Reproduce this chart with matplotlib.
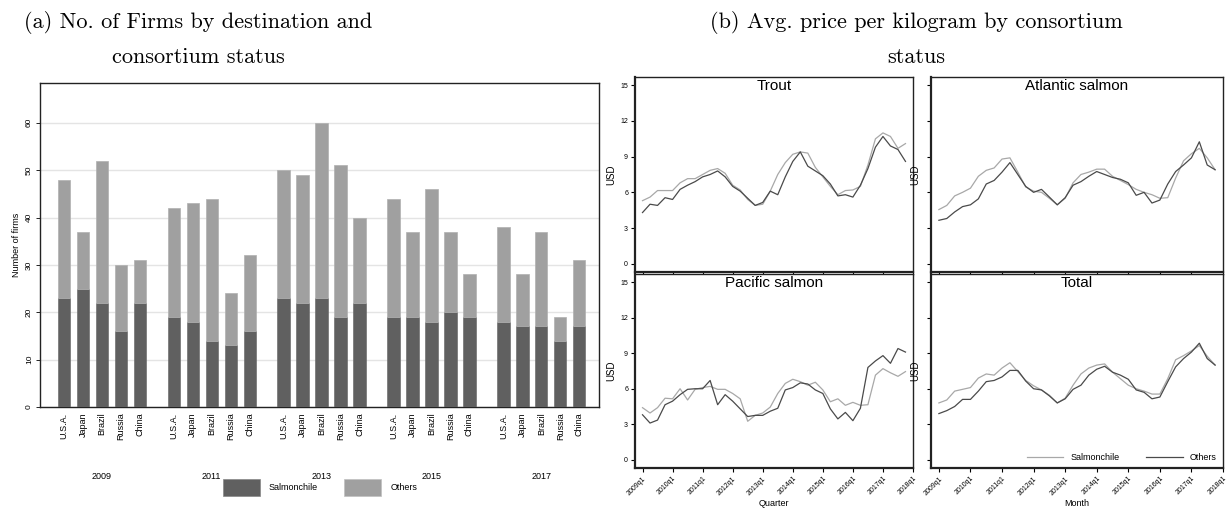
import matplotlib
matplotlib.use('Agg')
import matplotlib.pyplot as plt
import matplotlib.patches as patches
import numpy as np
from matplotlib.transforms import blended_transform_factory

# ---- data: panel (a) ----
years = ['2009', '2011', '2013', '2015', '2017']
countries = ['U.S.A.', 'Japan', 'Brazil', 'Russia', 'China']
salmonchile_firms = [[23, 25, 22, 16, 22],
                     [19, 18, 14, 13, 16],
                     [23, 22, 23, 19, 22],
                     [19, 19, 18, 20, 19],
                     [18, 17, 17, 14, 17]]
total_firms = [[48, 37, 52, 30, 31],
               [42, 43, 44, 24, 32],
               [50, 49, 60, 51, 40],
               [44, 37, 46, 37, 28],
               [38, 28, 37, 19, 31]]

# ---- data: panel (b), quarterly 2009q1 - 2017q4 ----
tick_labels = ['2009q1', '2010q1', '2011q1', '2012q1', '2013q1',
               '2014q1', '2015q1', '2016q1', '2017q1', '2018q1']

trout_salmonchile = [5.3, 5.6, 6.15, 6.15, 6.15, 6.8, 7.15, 7.15, 7.5, 7.85, 8.0, 7.6,
                     6.6, 6.2, 5.4, 4.9, 5.0, 6.1, 7.5, 8.5, 9.2, 9.4, 9.3, 8.1,
                     7.3, 6.5, 5.8, 6.15, 6.2, 6.5, 8.3, 10.5, 11.0, 10.7, 9.7, 10.1]
trout_others = [4.3, 5.0, 4.9, 5.55, 5.4, 6.25, 6.6, 6.9, 7.3, 7.5, 7.8, 7.3,
                6.5, 6.1, 5.5, 4.9, 5.15, 6.1, 5.8, 7.3, 8.6, 9.4, 8.2, 7.8,
                7.4, 6.7, 5.7, 5.8, 5.6, 6.6, 8.0, 9.8, 10.7, 9.9, 9.6, 8.6]

atlantic_salmonchile = [4.55, 4.9, 5.7, 6.0, 6.35, 7.35, 7.85, 8.05, 8.8, 8.9, 7.7, 6.45,
                        6.1, 6.0, 5.5, 4.95, 5.5, 6.8, 7.5, 7.7, 7.95, 7.95, 7.35, 7.0,
                        6.65, 6.25, 6.0, 5.8, 5.5, 5.55, 7.2, 8.65, 9.25, 9.7, 8.9, 7.9]
atlantic_others = [3.65, 3.8, 4.35, 4.8, 4.95, 5.45, 6.7, 7.0, 7.7, 8.5, 7.5, 6.5,
                   6.0, 6.25, 5.6, 4.95, 5.55, 6.6, 6.9, 7.35, 7.75, 7.5, 7.25, 7.1,
                   6.8, 5.75, 6.0, 5.1, 5.35, 6.7, 7.75, 8.3, 8.9, 10.25, 8.3, 7.9]

pacific_salmonchile = [4.4, 3.95, 4.4, 5.2, 5.15, 6.0, 5.05, 5.95, 6.1, 6.2, 5.95, 5.95,
                       5.6, 5.15, 3.25, 3.75, 3.95, 4.45, 5.6, 6.45, 6.8, 6.6, 6.3, 6.55,
                       5.9, 4.9, 5.15, 4.6, 4.85, 4.6, 4.65, 7.15, 7.7, 7.35, 7.05, 7.45]
pacific_others = [3.8, 3.1, 3.35, 4.65, 4.95, 5.5, 5.95, 6.0, 6.0, 6.7, 4.65, 5.5,
                  4.95, 4.3, 3.65, 3.75, 3.75, 4.1, 4.35, 5.9, 6.1, 6.5, 6.4, 5.9,
                  5.6, 4.3, 3.45, 4.0, 3.3, 4.35, 7.8, 8.35, 8.8, 8.15, 9.4, 9.1]

total_salmonchile = [4.8, 5.05, 5.8, 5.95, 6.1, 6.9, 7.25, 7.15, 7.75, 8.2, 7.45, 6.7,
                     6.25, 5.9, 5.45, 4.8, 5.2, 6.3, 7.25, 7.75, 8.0, 8.1, 7.4, 6.85,
                     6.3, 6.0, 5.8, 5.55, 5.55, 6.85, 8.45, 8.8, 9.2, 9.65, 8.75, 8.0]
total_others = [3.9, 4.15, 4.5, 5.1, 5.1, 5.8, 6.6, 6.7, 7.0, 7.55, 7.55, 6.65,
                6.0, 5.9, 5.4, 4.8, 5.15, 5.95, 6.3, 7.15, 7.65, 7.9, 7.4, 7.15,
                6.8, 5.9, 5.7, 5.15, 5.3, 6.6, 7.85, 8.55, 9.1, 9.85, 8.55, 8.0]

DARK = '#606060'
LIGHT = '#a0a0a0'
LINE_LIGHT = '#a8a8a8'
LINE_DARK = '#4a4a4a'

W, H = 1230, 508
fig = plt.figure(figsize=(W / 100, H / 100), dpi=100)
fig.patch.set_facecolor('white')


def px_axes(x0, y0, x1, y1):
    return fig.add_axes([x0 / W, 1 - y1 / H, (x1 - x0) / W, (y1 - y0) / H])


TITLE_FONT = dict(family='cmr10', fontsize=16)
SANS = ['Liberation Sans', 'DejaVu Sans']

# ---- titles ----
fig.text(198 / W, 1 - 23 / H, '(a) No. of Firms by destination and',
         ha='center', va='center', **TITLE_FONT)
fig.text(198 / W, 1 - 57 / H, 'consortium status', ha='center', va='center', **TITLE_FONT)
fig.text(916 / W, 1 - 23 / H, '(b) Avg. price per kilogram by consortium',
         ha='center', va='center', **TITLE_FONT)
fig.text(916 / W, 1 - 57 / H, 'status', ha='center', va='center', **TITLE_FONT)

# ---- panel (a): stacked bars ----
ax = px_axes(40, 83, 599, 407)
group_step = 5.79
bar_w = 0.65
xpos = []
xlab = []
for g, yr in enumerate(years):
    for j, c in enumerate(countries):
        x = g * group_step + j
        sc = salmonchile_firms[g][j]
        ot = total_firms[g][j] - sc
        ax.bar(x, sc, width=bar_w, color=DARK, edgecolor='#707070', linewidth=0.5, zorder=3)
        ax.bar(x, ot, bottom=sc, width=bar_w, color=LIGHT, edgecolor='#b0b0b0',
               linewidth=0.5, zorder=3)
        xpos.append(x)
        xlab.append(c)
ax.set_xlim(-1.26, 28.2)
ax.set_ylim(0, 68.4)
ax.set_yticks([0, 10, 20, 30, 40, 50, 60])
ax.set_yticklabels(['0', '10', '20', '30', '40', '50', '60'], rotation=90, va='center',
                   fontsize=6, family=SANS)
ax.set_xticks(xpos)
ax.set_xticklabels(xlab, rotation=90, fontsize=6.5, family=SANS)
ax.tick_params(axis='x', length=0, pad=4)
ax.tick_params(axis='y', length=3, width=0.6, pad=2)
ax.yaxis.grid(True, color='#e4e4e4', linewidth=1.0, zorder=0)
ax.set_ylabel('Number of firms', fontsize=6.5, family=SANS, labelpad=4)
for s in ax.spines.values():
    s.set_linewidth(1.0)
    s.set_color('#222222')
trans = blended_transform_factory(ax.transData, ax.transAxes)
for g, yr in enumerate(years):
    ax.text(g * group_step + 2, -0.215, yr, transform=trans, ha='center', va='center',
            fontsize=6.5, family=SANS)

# legend for panel (a)
fig.patches.append(patches.Rectangle((223 / W, 1 - 496 / H), 37 / W, 17 / H,
                                     transform=fig.transFigure, facecolor=DARK,
                                     edgecolor='#888888', linewidth=0.5))
fig.text(269 / W, 1 - 488 / H, 'Salmonchile', ha='left', va='center', fontsize=6.5,
         family=SANS)
fig.patches.append(patches.Rectangle((344 / W, 1 - 496 / H), 37 / W, 17 / H,
                                     transform=fig.transFigure, facecolor=LIGHT,
                                     edgecolor='#c0c0c0', linewidth=0.5))
fig.text(391 / W, 1 - 488 / H, 'Others', ha='left', va='center', fontsize=6.5, family=SANS)

# ---- panel (b): 2x2 line plots ----
panels = [
    ('Trout', trout_salmonchile, trout_others, (635, 77, 913, 272), True, False),
    ('Atlantic salmon', atlantic_salmonchile, atlantic_others, (931, 77, 1223, 272), False, False),
    ('Pacific salmon', pacific_salmonchile, pacific_others, (635, 274, 913, 468), True, True),
    ('Total', total_salmonchile, total_others, (931, 274, 1223, 468), False, True),
]
for name, s_vals, o_vals, box, show_y, show_x in panels:
    a = px_axes(*box)
    q = np.arange(len(s_vals))
    a.plot(q, s_vals, color=LINE_LIGHT, linewidth=0.9, label='Salmonchile')
    a.plot(q, o_vals, color=LINE_DARK, linewidth=0.9, label='Others')
    a.set_xlim(-1.0, 36.0)
    a.set_ylim(-0.7, 15.7)
    a.set_yticks([0, 3, 6, 9, 12, 15])
    a.set_xticks(np.arange(0, 37, 4))
    if show_y:
        a.set_yticklabels(['0', '3', '6', '9', '12', '15'], fontsize=5, family=SANS)
    else:
        a.set_yticklabels([])
    if show_x:
        a.set_xticklabels(tick_labels, rotation=45, ha='right', rotation_mode='anchor',
                          fontsize=5, family=SANS)
        a.set_xlabel('Quarter' if box[0] < 900 else 'Month', fontsize=6.5, family=SANS,
                      labelpad=2)
    else:
        a.set_xticklabels([])
    a.tick_params(axis='both', length=3, width=0.8, pad=2)
    a.set_ylabel('USD', fontsize=7, family=SANS, labelpad=3)
    a.text(0.5, 0.99, name, transform=a.transAxes, ha='center', va='top', fontsize=11,
           family=SANS)
    for s in a.spines.values():
        s.set_linewidth(1.0)
        s.set_color('#222222')
    a.spines['left'].set_linewidth(1.6)
    a.spines['bottom'].set_linewidth(1.6)
    if name == 'Total':
        a.legend(loc='lower right', ncol=2, frameon=False,
                 prop={'family': SANS, 'size': 6.5}, handlelength=4, columnspacing=3,
                 borderaxespad=0.3)

fig.savefig('out.png', dpi=100, facecolor='white')
